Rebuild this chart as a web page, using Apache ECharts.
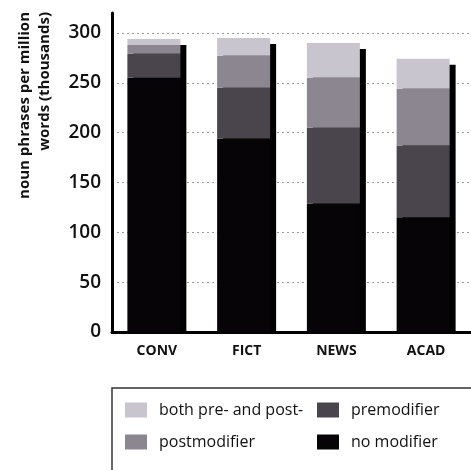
<!DOCTYPE html>
<html>
<head>
<meta charset="utf-8">
<script src="https://cdn.jsdelivr.net/npm/echarts@6/dist/echarts.min.js"></script>
<style>
  html, body { margin: 0; padding: 0; background: #fff; }
  #main { width: 471px; height: 470px; }
</style>
</head>
<body>
<div id="main"></div>
<script>
  // registers (bottom to top of each bar)
  const registers = ['CONV', 'FICT', 'NEWS', 'ACAD'];
  const noModifier = [255, 194, 129, 115];
  const premodifier = [24, 51, 76, 72];
  const postmodifier = [9, 32, 50, 57];
  const bothPrePost = [6, 18, 35, 30];
  const yTicks = [0, 50, 100, 150, 200, 250, 300];

  const FONT = '"Open Sans", "DejaVu Sans", sans-serif';
  // the printed bars have a black drop shadow, a bit right and a bit lower
  const shadowDrop = 6;
  const totals = registers.map((r, i) => noModifier[i] + premodifier[i] + postmodifier[i] + bothPrePost[i]);

  const myChart = echarts.init(document.getElementById('main'));

  function seg(name, data, color) {
    return {
      name: name,
      type: 'bar',
      stack: 'np',
      z: 3,
      barWidth: 53,
      barGap: '-88.7%',
      data: data,
      itemStyle: { color: color },
      emphasis: { disabled: true }
    };
  }

  const legendText = { fontFamily: FONT, fontSize: 16, fontWeight: 500, color: '#111', padding: [0, 0, 0, 7] };

  myChart.setOption({
    animation: false,
    grid: { left: 112, right: 0, top: 13, bottom: 138, containLabel: false },
    legend: [
      {
        data: ['both pre- and post-', 'postmodifier'],
        orient: 'vertical',
        left: 125, top: 402, padding: 0,
        icon: 'rect', itemWidth: 22, itemHeight: 15, itemGap: 16,
        textStyle: legendText,
        selectedMode: false
      },
      {
        data: ['premodifier', 'no modifier'],
        orient: 'vertical',
        left: 317, top: 402, padding: 0,
        icon: 'rect', itemWidth: 22, itemHeight: 15, itemGap: 16,
        textStyle: legendText,
        selectedMode: false
      }
    ],
    graphic: [
      {
        type: 'rect',
        shape: { x: 112, y: 388, width: 370, height: 100 },
        style: { fill: 'none', stroke: '#333', lineWidth: 1.5 },
        z: 0
      },
      {
        type: 'text',
        x: 15, y: 12,
        rotation: Math.PI / 2,
        style: {
          text: 'noun phrases per million\nwords (thousands)',
          fontFamily: FONT, fontSize: 15, fontWeight: 'bold',
          lineHeight: 20,
          align: 'right', verticalAlign: 'top',
          fill: '#111'
        }
      }
    ],
    xAxis: {
      type: 'category',
      data: registers,
      axisLine: { lineStyle: { color: '#000', width: 3 } },
      axisTick: { show: false },
      axisLabel: { fontFamily: FONT, fontSize: 14, fontWeight: 'bold', color: '#111', margin: 12 }
    },
    yAxis: {
      type: 'value',
      min: 0, max: 320, interval: 50,
      axisLine: { show: true, lineStyle: { color: '#000', width: 3 } },
      axisTick: { show: false },
      axisLabel: {
        fontFamily: FONT, fontSize: 19, fontWeight: 600, color: '#111', margin: 11,
        padding: [0, 0, 10, 0],
        showMaxLabel: false,
        formatter: v => (yTicks.indexOf(v) >= 0 ? String(v) : '')
      },
      splitLine: {
        showMinLine: false, showMaxLine: false,
        lineStyle: { color: '#9a9a9a', type: [2, 3], width: 1 }
      }
    },
    series: [
      seg('no modifier', noModifier, '#060406'),
      seg('premodifier', premodifier, '#4a444c'),
      seg('postmodifier', postmodifier, '#8c8691'),
      seg('both pre- and post-', bothPrePost, '#c9c5cf'),
      {
        name: 'shadow',
        type: 'bar',
        z: 2,
        barWidth: 53,
        data: totals.map(t => t - shadowDrop),
        itemStyle: { color: '#000' },
        silent: true
      }
    ]
  });

  window.onresize = function () { myChart.resize(); };
</script>
</body>
</html>
